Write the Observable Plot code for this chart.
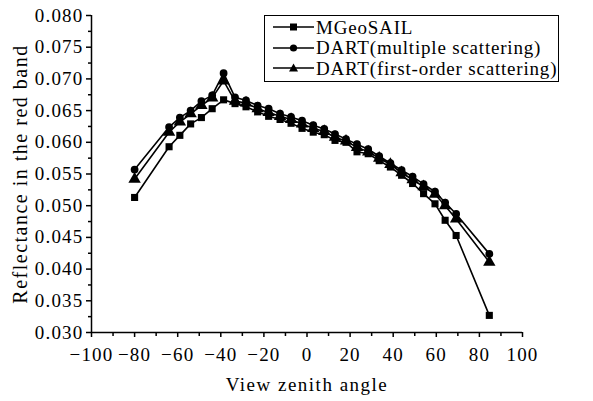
<!DOCTYPE html>
<html>
<head>
<meta charset="utf-8">
<script src="https://cdn.jsdelivr.net/npm/d3@7"></script>
<script src="https://cdn.jsdelivr.net/npm/@observablehq/plot@0.6"></script>
<style>
  html, body { margin: 0; padding: 0; background: #fff; }
  #wrap { position: relative; width: 593px; height: 401px; }
  #wrap svg g[aria-label="x-axis tick label"] text,
  #wrap svg g[aria-label="y-axis tick label"] text { letter-spacing: 1.2px; }
  #wrap svg g[aria-label="x-axis label"] text { letter-spacing: 1.5px; }
  #wrap svg g[aria-label="y-axis label"] text { letter-spacing: 1.5px; font-size: 20px; }
  #legend { position: absolute; left: 264px; top: 15px; width: 295px; height: 67px;
    border: 1.5px solid #000; box-sizing: border-box; background: #fff;
    font-family: "Liberation Serif", "DejaVu Serif", serif; font-size: 19px; letter-spacing: 0.8px; }
  .row { position: absolute; left: 8px; height: 20px; display: flex; align-items: center; }
  .row span { margin-left: 2px; white-space: nowrap; line-height: 1; }
</style>
</head>
<body>
<div id="wrap"></div>
<script>
// View zenith angles (degrees)
const angles = [-80, -64, -59, -54, -49, -44, -38.7, -33.4, -28.3, -22.9, -17.8, -12.5, -7.4, -2.3, 2.9, 8.0, 13.0, 18.1, 23.2, 28.4, 33.5, 38.7, 43.9, 49.0, 54.1, 59.4, 64.1, 69.2, 84.6];
// Reflectance in the red band
const mgeosail = [0.0513, 0.0593, 0.0611, 0.0629, 0.0639, 0.0653, 0.0667, 0.0661, 0.0656, 0.0648, 0.0641, 0.0636, 0.0630, 0.0622, 0.0616, 0.0612, 0.0603, 0.0600, 0.0585, 0.0582, 0.0571, 0.0561, 0.0548, 0.0535, 0.0519, 0.0503, 0.0477, 0.0453, 0.0327];
const dartMultiple = [0.0557, 0.0624, 0.0639, 0.0650, 0.0665, 0.0674, 0.0709, 0.0671, 0.0666, 0.0658, 0.0653, 0.0645, 0.0640, 0.0634, 0.0627, 0.0621, 0.0613, 0.0605, 0.0597, 0.0589, 0.0578, 0.0567, 0.0556, 0.0546, 0.0534, 0.0522, 0.0505, 0.0487, 0.0424];
const dartFirst = [0.0542, 0.0616, 0.0632, 0.0645, 0.0658, 0.0670, 0.0697, 0.0665, 0.0662, 0.0653, 0.0647, 0.0641, 0.0636, 0.0629, 0.0622, 0.0617, 0.0608, 0.0602, 0.0592, 0.0585, 0.0575, 0.0565, 0.0552, 0.0541, 0.0530, 0.0518, 0.0500, 0.0479, 0.0411];

const seriesNames = ["MGeoSAIL", "DART(multiple scattering)", "DART(first-order scattering)"];
const seriesValues = [mgeosail, dartMultiple, dartFirst];
const seriesSymbols = ["square", "circle", "triangle"];
const seriesR = [4.0, 3.9, 4.6];

const xMajor = [-100, -80, -60, -40, -20, 0, 20, 40, 60, 80, 100];
const xMinor = [-90, -70, -50, -30, -10, 10, 30, 50, 70, 90];
const yMajor = [0.030, 0.035, 0.040, 0.045, 0.050, 0.055, 0.060, 0.065, 0.070, 0.075, 0.080];
const yMinor = [0.0325, 0.0375, 0.0425, 0.0475, 0.0525, 0.0575, 0.0625, 0.0675, 0.0725, 0.0775];

const rows = [];
seriesValues.forEach((vals, s) => vals.forEach((v, i) => rows.push({series: seriesNames[s], s, x: angles[i], y: v})));

const marks = [];
// axis lines
marks.push(Plot.ruleX([-100], {stroke: "#000", strokeWidth: 1.5}));
marks.push(Plot.ruleY([0.030], {stroke: "#000", strokeWidth: 1.5}));
// series
seriesNames.forEach((name, s) => {
  const d = rows.filter(r => r.s === s);
  marks.push(Plot.line(d, {x: "x", y: "y", stroke: "#000", strokeWidth: 1.6}));
});
seriesNames.forEach((name, s) => {
  const d = rows.filter(r => r.s === s);
  marks.push(Plot.dot(d, {x: "x", y: "y", symbol: () => seriesSymbols[s], r: seriesR[s], fill: "#000", stroke: "none"}));
});
// axes
marks.push(Plot.axisX({ticks: xMajor, tickSize: 5, tickPadding: 10, tickFormat: d => d < 0 ? "\u2212" + Math.abs(d) : String(d),
  label: "View zenith angle", labelAnchor: "center", labelOffset: 58, labelArrow: "none", strokeWidth: 1.5}));
marks.push(Plot.axisX({ticks: xMinor, tickSize: 4, tickFormat: () => "", label: null, strokeWidth: 1.5}));
marks.push(Plot.axisY({ticks: yMajor, tickSize: 5, tickPadding: 3, tickFormat: d3.format(".3f"),
  label: "Reflectance in the red band", labelAnchor: "center", labelOffset: 79, labelArrow: "none", strokeWidth: 1.5}));
marks.push(Plot.axisY({ticks: yMinor, tickSize: 3, tickFormat: () => "", label: null, strokeWidth: 1.5}));

const chart = Plot.plot({
  width: 593,
  height: 401,
  marginLeft: 91,
  marginRight: 71,
  marginTop: 15,
  marginBottom: 69,
  style: {fontFamily: "'Liberation Serif', 'DejaVu Serif', serif", fontSize: "19px", color: "#000", background: "#fff"},
  x: {domain: [-100, 100]},
  y: {domain: [0.030, 0.080]},
  marks
});
const wrap = document.getElementById("wrap");
wrap.appendChild(chart);

// legend
const legend = document.createElement("div");
legend.id = "legend";
const sym = {
  square: '<rect x="17" y="6.5" width="7" height="7" fill="#000"/>',
  circle: '<circle cx="20.5" cy="10" r="3.6" fill="#000"/>',
  triangle: '<path d="M20.5 5.5 L25 13.5 L16 13.5 Z" fill="#000"/>'
};
seriesNames.forEach((name, s) => {
  const row = document.createElement("div");
  row.className = "row";
  row.style.top = (1 + s * 20.5) + "px";
  row.innerHTML = `<svg width="41" height="20"><line x1="0" y1="10" x2="41" y2="10" stroke="#000" stroke-width="1.5"/>${sym[seriesSymbols[s]]}</svg><span>${name}</span>`;
  legend.appendChild(row);
});
wrap.appendChild(legend);
</script>
</body>
</html>
